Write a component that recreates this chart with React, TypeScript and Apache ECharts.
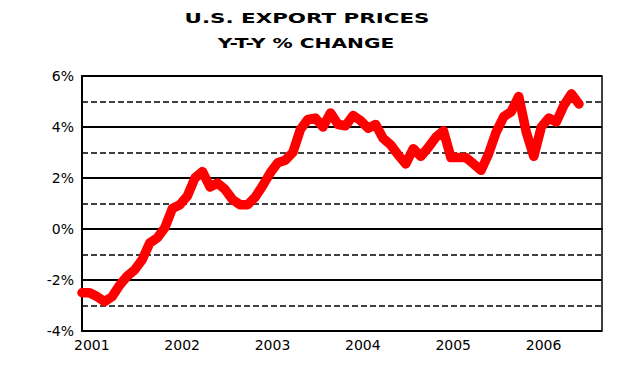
import React, { useEffect, useRef } from "react";
import * as echarts from "echarts";

const titleLines = ["U.S. EXPORT PRICES", "Y-T-Y % CHANGE"];
const yearLabels = ["2001", "2002", "2003", "2004", "2005", "2006"];
// Monthly y-t-y % change, Jan 2001 .. Jul 2006
const monthlyValues = [
  -2.5, -2.5, -2.65, -2.85, -2.65, -2.2, -1.85, -1.6, -1.2, -0.55, -0.35, 0.05,
  0.8, 0.95, 1.3, 2.0, 2.25, 1.65, 1.8, 1.55, 1.15, 0.95, 0.95, 1.25,
  1.7, 2.2, 2.6, 2.7, 3.0, 3.9, 4.3, 4.35, 4.0, 4.55, 4.1, 4.05,
  4.45, 4.25, 3.95, 4.1, 3.55, 3.3, 2.9, 2.55, 3.15, 2.85, 3.2, 3.6,
  3.85, 2.8, 2.8, 2.8, 2.55, 2.3, 2.95, 3.8, 4.4, 4.6, 5.2, 3.8,
  2.85, 4.0, 4.35, 4.2, 4.85, 5.3, 4.9,
];

export default function App() {
  const ref = useRef<HTMLDivElement>(null);
  useEffect(() => {
    document.body.style.margin = "0";
    if (!ref.current) return;
    const chart = echarts.init(ref.current, null, { renderer: "svg" });
    const data = monthlyValues.map((v, i) => [i, v]);
    const labelPositions = yearLabels.map((_, i) => i * 12 + 1.3);
    chart.setOption({
      animation: false,
      backgroundColor: "#fff",
      graphic: [
        {
          type: "text",
          x: 307,
          y: 18,
          scaleX: 1.53,
          style: {
            text: titleLines[0],
            fill: "#000",
            font: "bold 14px 'DejaVu Sans'",
            textAlign: "center",
            textVerticalAlign: "middle",
          },
        },
        {
          type: "text",
          x: 306,
          y: 43,
          scaleX: 1.44,
          style: {
            text: titleLines[1],
            fill: "#000",
            font: "bold 14px 'DejaVu Sans'",
            textAlign: "center",
            textVerticalAlign: "middle",
          },
        },
      ],
      grid: {
        left: 82,
        top: 76,
        right: 18,
        bottom: 54,
        show: true,
        borderColor: "#000",
        borderWidth: 1.5,
        containLabel: false,
      },
      xAxis: {
        type: "value",
        min: 0,
        max: 69.06,
        axisLine: { show: true, lineStyle: { color: "#000", width: 2 } },
        axisTick: { show: false },
        splitLine: { show: false },
        axisLabel: {
          customValues: labelPositions,
          color: "#000",
          fontFamily: "DejaVu Sans",
          fontSize: 14,
          margin: 7,
          formatter: (v: number) => {
            const idx = Math.round((v - 1.3) / 12);
            return yearLabels[idx] ?? "";
          },
        },
      },
      yAxis: [
        {
          type: "value",
          min: -4,
          max: 6,
          interval: 1,
          axisLine: { show: true, lineStyle: { color: "#000", width: 2 } },
          axisTick: { show: false },
          axisLabel: { show: false },
          splitLine: { show: true, lineStyle: { color: "#000", width: 1.7, type: [6, 3] } },
        },
        {
          type: "value",
          position: "left",
          min: -4,
          max: 6,
          interval: 2,
          axisLine: { show: false },
          axisTick: { show: false },
          axisLabel: {
            color: "#000",
            fontFamily: "DejaVu Sans",
            fontSize: 14,
            margin: 8,
            formatter: "{value}%",
          },
          splitLine: { show: true, lineStyle: { color: "#000", width: 2, type: "solid" } },
        },
      ],
      series: [
        {
          type: "line",
          yAxisIndex: 0,
          data,
          showSymbol: false,
          symbol: "none",
          lineStyle: { color: "#ff0000", width: 9.5, cap: "round", join: "round" },
          z: 5,
        },
      ],
    });
    return () => chart.dispose();
  }, []);
  return <div ref={ref} style={{ width: 620, height: 385 }} />;
}
